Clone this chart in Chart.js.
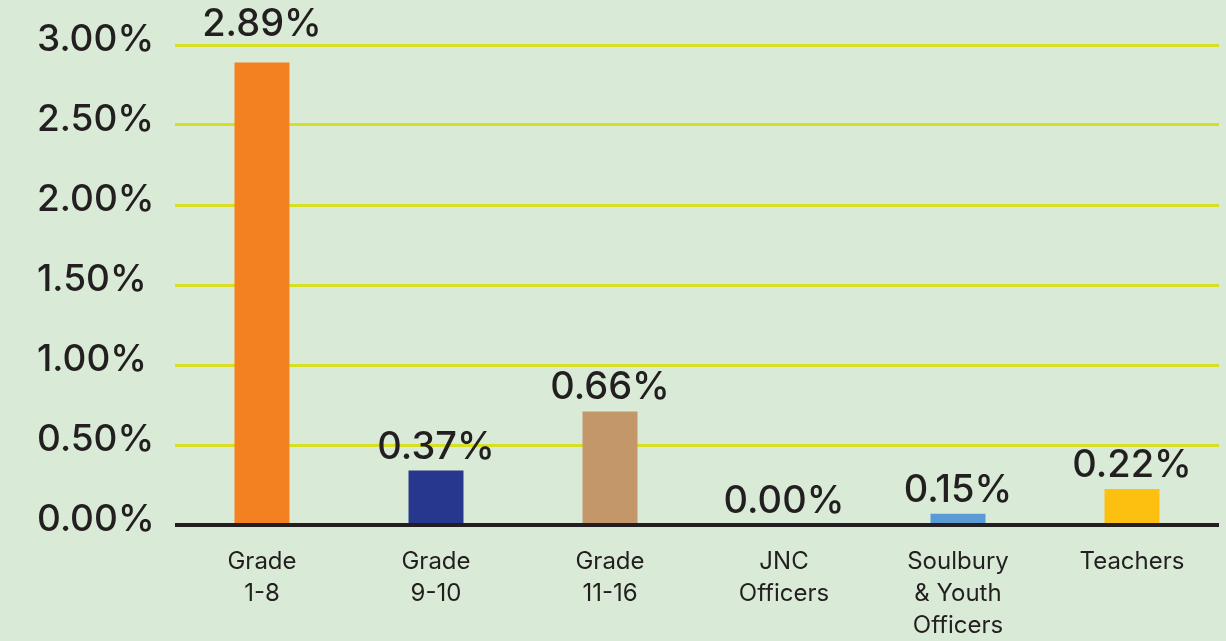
<!DOCTYPE html>
<html lang="en">
<head>
    <meta charset="UTF-8">
    <title>Pay gap by grade</title>
    <style>
        body { margin: 0; background: #d9ebd6; }
        #grafico { display: block; }
    </style>
</head>
<body>
    <canvas id="grafico" width="1226" height="641"></canvas>
    <script src="https://cdn.jsdelivr.net/npm/chart.js"></script>
    <script>
        const categorias = [
            ['Grade', '1-8'],
            ['Grade', '9-10'],
            ['Grade', '11-16'],
            ['JNC', 'Officers'],
            ['Soulbury', '& Youth', 'Officers'],
            ['Teachers']
        ]
        // bar heights as drawn in the picture
        const valores = [2.89, 0.34, 0.71, 0, 0.07, 0.225]
        // value labels as printed above the bars
        const rotulos = ['2.89%', '0.37%', '0.66%', '0.00%', '0.15%', '0.22%']
        const ticksY = [0, 0.5, 1, 1.5, 2, 2.5, 3]
        const cores = ['#f48120', '#28378e', '#c3976a', '#28378e', '#5b9bd5', '#fdc010']

        const texto = '#231f20'
        const fonte = 'Inter, "Noto Sans", sans-serif'

        const rotulosPlugin = {
            id: 'rotulos',
            afterDatasetsDraw(chart) {
                const c = chart.ctx
                const meta = chart.getDatasetMeta(0)
                const topo = chart.scales.y.getPixelForValue(ticksY[ticksY.length - 1])
                c.save()
                c.fillStyle = texto
                c.font = '500 38px ' + fonte
                c.textAlign = 'center'
                c.textBaseline = 'alphabetic'
                meta.data.forEach((bar, i) => {
                    let y = bar.y - 12
                    if (y > topo - 30 && y < topo + 30) y = topo - 9
                    c.fillText(rotulos[i], bar.x, y)
                })
                c.restore()
            }
        }

        const ctx = document.getElementById('grafico')

        const grafico = new Chart(ctx, {
            type: 'bar',
            data: {
                labels: categorias,
                datasets: [{
                    data: valores,
                    backgroundColor: cores,
                    barPercentage: 0.316,
                    categoryPercentage: 1
                }]
            },
            options: {
                responsive: false,
                animation: false,
                layout: { padding: { left: 37, right: 7, top: 45, bottom: 0 } },
                plugins: {
                    legend: { display: false },
                    tooltip: { enabled: false }
                },
                scales: {
                    x: {
                        grid: { display: false, drawTicks: false },
                        border: { display: false },
                        afterFit: s => { s.height = 116 },
                        ticks: {
                            color: texto,
                            padding: 21,
                            font: { family: fonte, size: 24, weight: 400, lineHeight: 1.33 }
                        }
                    },
                    y: {
                        min: 0,
                        max: 3,
                        afterBuildTicks: s => { s.ticks = ticksY.map(v => ({ value: v })) },
                        afterFit: s => { s.width = 138 },
                        border: { display: false },
                        grid: {
                            drawTicks: false,
                            color: c => c.tick && c.tick.value === 0 ? texto : '#d6df22',
                            lineWidth: c => c.tick && c.tick.value === 0 ? 4 : 3
                        },
                        ticks: {
                            color: texto,
                            crossAlign: 'far',
                            labelOffset: -5,
                            font: { family: fonte, size: 37, weight: 500 },
                            callback: v => v.toFixed(2) + '%'
                        }
                    }
                }
            },
            plugins: [rotulosPlugin]
        })
    </script>
</body>
</html>
